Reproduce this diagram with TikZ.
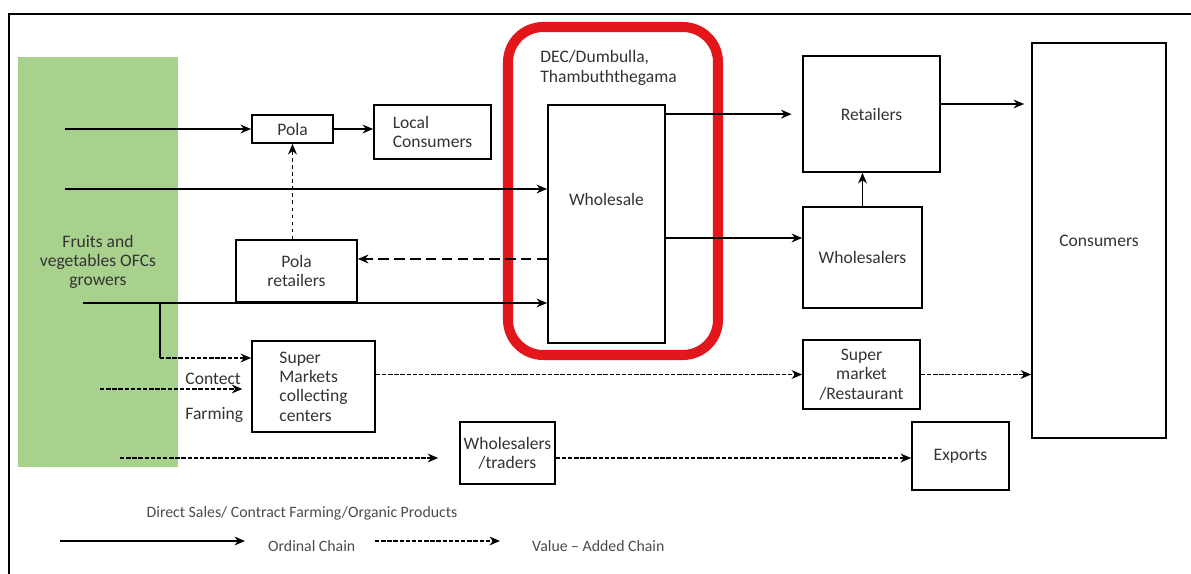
\documentclass[tikz,border=0pt]{standalone}
\usepackage{fontspec}
\setmainfont{Carlito}
\usetikzlibrary{calc,arrows.meta}
\tikzset{>={Stealth[length=6pt,width=5pt]}}
\definecolor{growgreen}{HTML}{A9D18E}
\definecolor{hubred}{HTML}{E3161B}
\tikzset{
  box/.style={draw, line width=1pt, inner sep=2pt, align=center,
    font=\fontsize{10}{11}\selectfont, text=black!80},
  ordinal/.style={->, line width=0.8pt},
  valueadd/.style={->, line width=0.8pt, dash pattern=on 2.5pt off 1pt},
  legtext/.style={font=\fontsize{9}{10}\selectfont, text=black!70}
}

\begin{document}
\begin{tikzpicture}[x=0.02cm, y=-0.02cm]
\useasboundingbox (0,0) rectangle (1191,574);
\draw[line width=0.6pt] (9,574) -- (9,14) -- (1191,14);

% growers column and the collecting hub
\node[box, draw=none, fill=growgreen, minimum width=3.2cm, minimum height=8.2cm] (growers) at (98,262) {Fruits and\\vegetables OFCs\\growers};
\draw[hubred, line width=5.7pt, rounded corners=20pt] (508,27) rectangle (718,355);
\node[box, draw=none, anchor=west, align=left] (dec) at (536,68) {DEC/Dumbulla,\\Thambuththegama};

\node[box, minimum width=1.62cm, minimum height=0.56cm] (pola) at (292.5,129) {Pola};
\node[box, minimum width=2.34cm, minimum height=1.08cm, align=left] (local) at (432.5,132) {Local\\Consumers};
\node[box, minimum width=2.42cm, minimum height=1.24cm] (polaret) at (296.5,271) {Pola\\retailers};
\node[box, minimum width=2.46cm, minimum height=1.82cm, align=left] (super) at (313.5,386.5) {Super\\Markets\\collecting\\centers};
\node[box, minimum width=2.34cm, minimum height=4.76cm] (whole) at (606.5,224) {};
\node[box, draw=none] (wholetxt) at (606.5,199) {Wholesale};
\node[box, minimum width=2.74cm, minimum height=2.32cm] (retail) at (871.5,114) {Retailers};
\node[box, minimum width=2.38cm, minimum height=2.02cm] (whsalers) at (862.5,257.5) {Wholesalers};
\node[box, minimum width=2.68cm, minimum height=7.9cm] (consumers) at (1099,240.5) {Consumers};
\node[box, minimum width=2.34cm, minimum height=1.38cm] (smarket) at (861.5,374.5) {Super\\market\\/Restaurant};
\node[box, minimum width=1.62cm, minimum height=1.24cm] (traders) at (507.5,453) {Wholesalers\\/traders};
\node[box, minimum width=1.94cm, minimum height=1.36cm] (exports) at (960.5,456) {Exports};
\node[box, draw=none, anchor=west, align=left] (contract) at (181,398) {Contect\\[9pt]Farming};

\coordinate (s1) at (65,129);
\coordinate (s2) at (65,189);
\coordinate (s3) at (83,303);
\coordinate (b1) at (160,358);
\coordinate (s4) at (100,389);
\coordinate (s5) at (120,458);
\coordinate (w1) at ($(whole.north east)+(0,10)$);
\coordinate (w2) at ($(whole.east)+(0,14)$);
\coordinate (r1) at ($(retail.east)+(0,-10)$);
\coordinate (w3) at ($(whole.west)+(0,35)$);

% ordinal chain
\draw[ordinal] (s1) -- (pola.west);
\draw[ordinal] (pola.east) -- (pola.east -| local.west);
\draw[ordinal] (s2) -- (s2 -| whole.west);
\draw[ordinal] (s3) -- (s3 -| whole.west);
\draw[line width=0.8pt] (s3 -| b1) -- (b1);
\draw[ordinal, shorten >=6] (w1) -- (w1 -| retail.west);
\draw[ordinal, shorten >=4] (r1) -- (r1 -| consumers.west);
\draw[ordinal] (w2) -- (w2 -| whsalers.west);
\draw[ordinal] (whsalers.north) -- (whsalers.north |- retail.south);

% value added chain
\draw[->, line width=0.8pt, dash pattern=on 6pt off 3pt] (w3) -- (w3 -| polaret.east);
\draw[->, line width=1pt, dash pattern=on 2pt off 2pt] (polaret.north -| pola.south) -- (pola.south);
\draw[valueadd] (b1) -- (b1 -| super.west);
\draw[valueadd, shorten >=5] (s4) -- (s4 -| super.west);
\draw[valueadd] (super.east |- smarket.west) -- (smarket.west);
\draw[valueadd] (smarket.east) -- (smarket.east -| consumers.west);
\draw[valueadd, shorten >=12] (s5) -- (s5 -| traders.west);
\draw[valueadd] (traders.east |- s5) -- (s5 -| exports.west);

% legend
\node[legtext] (legtitle) at (302,513) {Direct Sales/ Contract Farming/Organic Products};
\coordinate (l1) at (60,541);
\coordinate (l2) at (245,541);
\coordinate (l3) at (375,541);
\coordinate (l4) at (500,541);
\draw[ordinal] (l1) -- (l2);
\node[legtext, anchor=west] (ordtxt) at (262,546) {Ordinal Chain};
\draw[valueadd] (l3) -- (l4);
\node[legtext, anchor=west] (vatxt) at (526,546) {Value -- Added Chain};
\end{tikzpicture}
\end{document}
